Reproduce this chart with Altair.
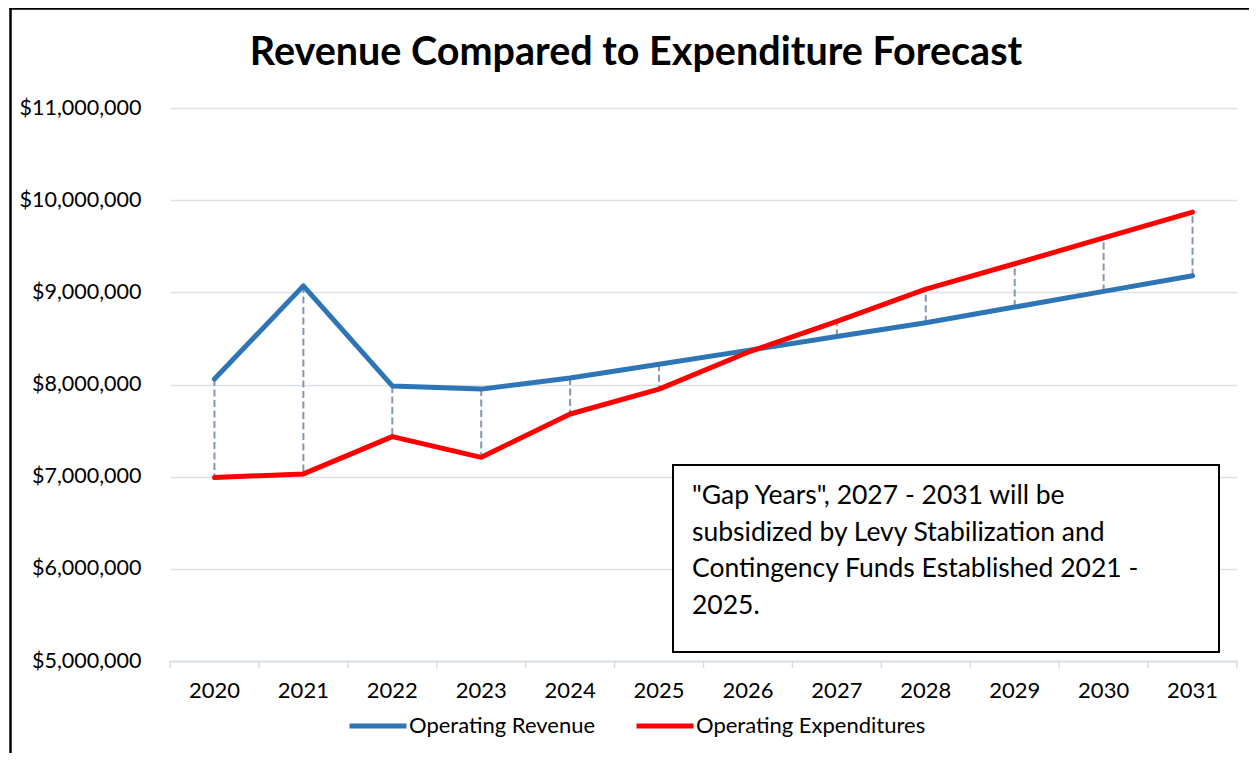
import altair as alt
import pandas as pd

years = [str(y) for y in range(2020, 2032)]
revenue = [8060000, 9070000, 7985000, 7950000, 8070000, 8220000, 8370000,
           8520000, 8670000, 8840000, 9010000, 9180000]
expenditures = [6990000, 7030000, 7435000, 7210000, 7680000, 7950000, 8350000,
                8685000, 9035000, 9310000, 9590000, 9870000]
series_names = ["Operating Revenue", "Operating Expenditures"]
series_colors = ["#2E75B6", "#FF0000"]
y_ticks = [5000000, 6000000, 7000000, 8000000, 9000000, 10000000, 11000000]
note_lines = ['"Gap Years", 2027 - 2031 will be',
              'subsidized by Levy Stabilization and',
              'Contingency Funds Established 2021 -',
              '2025.']
title_text = "Revenue Compared to Expenditure Forecast"

wide = pd.DataFrame({"year": years, "rev": revenue, "exp": expenditures})
long = pd.concat([
    pd.DataFrame({"year": years, "value": revenue, "series": series_names[0]}),
    pd.DataFrame({"year": years, "value": expenditures, "series": series_names[1]}),
])

FONT = "Lato"
W, H = 1067, 553
AXIS_GRAY = "#D6DCE4"

xscale = alt.Scale(type="band", paddingInner=0, paddingOuter=0)
xaxis = alt.Axis(labelAngle=0, ticks=False, grid=False,
                 domainColor=AXIS_GRAY, domainWidth=1.5,
                 labelFont=FONT, labelFontSize=22, labelColor="#000000",
                 labelPadding=19)
yaxis = alt.Axis(values=y_ticks, format="$,.0f", domain=False, ticks=False,
                 labelFont=FONT, labelFontSize=21.5, labelColor="#000000",
                 labelPadding=29, gridColor="#DCE1E8", gridWidth=1.5)
yscale = alt.Scale(domain=[5000000, 11000000], nice=False, zero=False)

color = alt.Color("series:N",
                  scale=alt.Scale(domain=series_names, range=series_colors),
                  legend=alt.Legend(title=None, orient="none", direction="horizontal",
                                    legendX=177, legendY=587,
                                    symbolType="stroke", symbolSize=3249,
                                    symbolStrokeWidth=5, labelOffset=0,
                                    columnPadding=30, labelLimit=0,
                                    labelFont=FONT, labelFontSize=22,
                                    labelColor="#000000"))

drops = alt.Chart(wide).mark_rule(color="#8497B0", strokeWidth=2,
                                  strokeDash=[7, 3.5]).encode(
    x=alt.X("year:O", scale=xscale, axis=xaxis, title=None),
    y=alt.Y("rev:Q", scale=yscale, axis=yaxis, title=None), y2="exp:Q")

# category-boundary tick marks below the x axis (left edge of each band + right end)
ticks_left = alt.Chart(wide).mark_rule(color=AXIS_GRAY, strokeWidth=1.5).encode(
    x=alt.X("year:O", scale=xscale, bandPosition=0),
    y=alt.value(H), y2=alt.value(H + 7))
ticks_right = alt.Chart(wide).transform_filter(
    alt.datum.year == years[-1]).mark_rule(color=AXIS_GRAY, strokeWidth=1.5).encode(
    x=alt.X("year:O", scale=xscale, bandPosition=1),
    y=alt.value(H), y2=alt.value(H + 7))

base = alt.Chart(long).mark_line(strokeWidth=5, strokeCap="round", strokeJoin="round")
rev_line = base.transform_filter(alt.datum.series == series_names[0]).encode(
    x=alt.X("year:O", scale=xscale), y=alt.Y("value:Q"), color=color)
exp_line = base.transform_filter(alt.datum.series == series_names[1]).encode(
    x=alt.X("year:O", scale=xscale), y=alt.Y("value:Q"), color=color)

one = pd.DataFrame({"a": [0]})
box = alt.Chart(one).mark_rect(
    fill="white", stroke="black", strokeWidth=2).encode(
    x=alt.value(503), x2=alt.value(1049), y=alt.value(357), y2=alt.value(544))
note = alt.Chart(one).mark_text(
    align="left", baseline="alphabetic", font=FONT, fontSize=26.5,
    lineHeight=36.5, color="#000000").encode(
    x=alt.value(522), y=alt.value(396), text=alt.value(note_lines))
title = alt.Chart(one).mark_text(
    align="center", baseline="alphabetic", font=FONT, fontSize=39.5,
    fontWeight="bold", color="#000000").encode(
    x=alt.value(466), y=alt.value(-43), text=alt.value(title_text))

frame_left = alt.Chart(one).mark_rule(
    color="black", strokeWidth=2.5).encode(
    x=alt.value(-159.5), y=alt.value(-100), y2=alt.value(645))
frame_top = alt.Chart(one).mark_rule(
    color="black", strokeWidth=2.5).encode(
    x=alt.value(-160.5), x2=alt.value(1079), y=alt.value(-99.5))

chart = alt.layer(drops, ticks_left, ticks_right, rev_line, exp_line, box, note, title,
                  frame_left, frame_top).properties(
    width=W, height=H,
    background="white",
    padding={"left": 162, "top": 100, "right": 12, "bottom": 92},
    autosize=alt.AutoSizeParams(type="none"),
).configure_view(stroke="transparent", strokeWidth=0
).configure_axisX(grid=False, ticks=False
).configure_axisY(domain=False, ticks=False)

chart.save("out.html", embed_options={"renderer": "svg", "actions": False})
